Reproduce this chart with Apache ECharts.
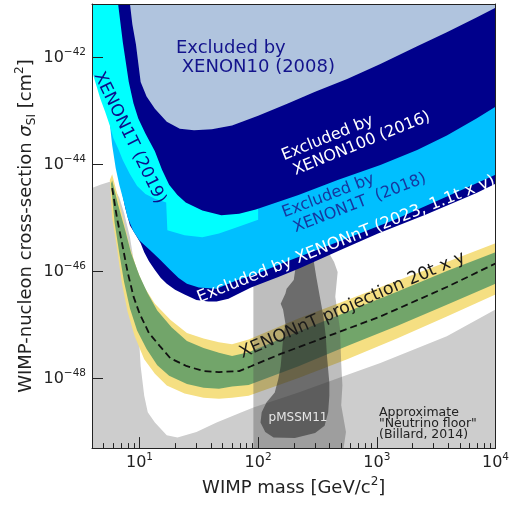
<!DOCTYPE html>
<html>
<head>
<meta charset="utf-8">
<script src="https://cdn.jsdelivr.net/npm/echarts@6/dist/echarts.min.js"></script>
<style>
  html, body { margin: 0; padding: 0; background: #fff; }
  #main { width: 512px; height: 505px; }
</style>
</head>
<body>
<div id="main"></div>
<script>
// every point is [log10(mass / GeV), log10(sigma / cm^2)]
var xenon10 = [[0.92,-41.0],[0.94,-41.38],[0.97,-41.75],[1.01,-42.46],[1.06,-42.73],[1.13,-42.96],[1.23,-43.20],[1.34,-43.33],[1.46,-43.36],[1.61,-43.34],[1.78,-43.27],[2.00,-43.09],[2.25,-42.86],[2.48,-42.64],[2.75,-42.40],[3.03,-42.12],[3.34,-41.79],[3.59,-41.53],[3.84,-41.25],[4.0,-41.07]];
var xenon100 = [[0.82,-41.0],[0.86,-41.72],[0.91,-42.46],[0.95,-42.86],[0.99,-43.14],[1.05,-43.42],[1.13,-43.75],[1.19,-44.10],[1.25,-44.38],[1.32,-44.57],[1.39,-44.71],[1.53,-44.86],[1.69,-44.95],[1.84,-44.92],[1.98,-44.84],[2.34,-44.57],[2.67,-44.29],[3.03,-44.01],[3.34,-43.73],[3.59,-43.46],[3.84,-43.14],[4.0,-42.92]];
var xenon1t2019 = [[0.60,-42.25],[0.67,-42.77],[0.71,-43.01],[0.75,-43.27],[0.78,-43.51],[0.82,-43.70],[0.86,-43.92],[0.92,-44.18],[0.98,-44.40],[1.05,-44.55],[1.13,-44.64],[1.225,-44.71],[1.235,-45.23],[1.38,-45.32],[1.53,-45.36],[1.67,-45.29],[1.81,-45.18],[2.00,-45.03]];
var xenon1t2018 = [[0.72,-41.0],[0.72,-42.40],[0.73,-42.86],[0.75,-43.23],[0.77,-43.64],[0.80,-44.07],[0.83,-44.38],[0.87,-44.71],[0.90,-44.99],[0.95,-45.25],[1.00,-45.42],[1.09,-45.60],[1.17,-45.77],[1.26,-45.97],[1.33,-46.12],[1.40,-46.23],[1.50,-46.30],[1.65,-46.32],[1.81,-46.17],[2.00,-46.03],[2.23,-45.82],[2.67,-45.45],[3.15,-45.03],[3.70,-44.49],[4.0,-44.19]];
var xenonnt2023 = [[0.78,-41.0],[0.78,-42.77],[0.79,-43.33],[0.81,-43.88],[0.84,-44.38],[0.88,-44.81],[0.92,-45.14],[0.97,-45.32],[1.01,-45.47],[1.04,-45.64],[1.08,-45.81],[1.13,-45.97],[1.18,-46.12],[1.23,-46.23],[1.30,-46.34],[1.38,-46.43],[1.48,-46.53],[1.58,-46.56],[1.65,-46.56],[1.75,-46.51],[1.94,-46.30],[2.17,-46.10],[2.36,-45.93],[2.67,-45.62],[3.01,-45.29],[3.42,-44.93],[3.84,-44.53],[4.0,-44.36]];
var neutrinoFloor = [[0.60,-44.44],[0.67,-44.38],[0.75,-44.32],[0.79,-44.44],[0.83,-44.62],[0.87,-44.90],[0.92,-45.36],[0.96,-45.92],[0.98,-46.65],[1.01,-47.77],[1.04,-48.32],[1.07,-48.63],[1.13,-48.82],[1.23,-49.06],[1.32,-49.10],[1.48,-49.00],[1.65,-48.82],[1.84,-48.65],[1.96,-48.54],[2.34,-48.26],[2.73,-47.95],[3.03,-47.71],[3.59,-47.21],[4.0,-46.71]];

// XENONnT 20 t x y projection: median and 1 / 2 sigma edges
var projMedian = [[0.77,-44.44],[0.81,-44.99],[0.86,-45.55],[0.90,-46.01],[0.95,-46.47],[1.00,-46.78],[1.08,-47.15],[1.17,-47.39],[1.26,-47.62],[1.40,-47.77],[1.54,-47.86],[1.67,-47.88],[1.84,-47.86],[1.94,-47.77],[2.19,-47.54],[2.61,-47.19],[3.03,-46.84],[3.59,-46.29],[4.0,-45.85]];
var proj1Up = [[0.77,-44.30],[0.82,-44.75],[0.88,-45.23],[0.93,-45.66],[1.00,-46.08],[1.07,-46.41],[1.15,-46.73],[1.27,-47.04],[1.40,-47.30],[1.54,-47.43],[1.67,-47.52],[1.78,-47.58],[1.92,-47.51],[2.34,-47.12],[2.75,-46.75],[3.17,-46.38],[3.59,-45.99],[4.0,-45.64]];
var proj1Down = [[0.76,-44.36],[0.79,-45.08],[0.83,-45.66],[0.87,-46.19],[0.92,-46.69],[0.98,-47.10],[1.06,-47.45],[1.15,-47.75],[1.25,-47.95],[1.40,-48.10],[1.54,-48.17],[1.67,-48.19],[1.78,-48.15],[1.92,-48.12],[2.34,-47.77],[2.75,-47.39],[3.17,-47.02],[3.59,-46.62],[4.0,-46.23]];
var proj2Up = [[0.77,-44.18],[0.82,-44.62],[0.87,-45.08],[0.92,-45.55],[0.98,-45.97],[1.04,-46.29],[1.13,-46.60],[1.26,-46.90],[1.40,-47.15],[1.54,-47.25],[1.67,-47.32],[1.78,-47.36],[1.92,-47.27],[2.34,-46.88],[2.75,-46.53],[3.17,-46.17],[3.59,-45.82],[4.0,-45.47]];
var proj2Down = [[0.75,-44.29],[0.77,-44.99],[0.81,-45.55],[0.85,-46.19],[0.90,-46.75],[0.96,-47.21],[1.04,-47.64],[1.13,-47.91],[1.23,-48.13],[1.38,-48.28],[1.54,-48.36],[1.67,-48.38],[1.78,-48.36],[1.92,-48.32],[2.34,-47.99],[2.75,-47.64],[3.17,-47.25],[3.59,-46.84],[4.0,-46.43]];

// pMSSM11 regions (outline)
var pmssmOuter = [[1.96,-45.55],[2.57,-45.55],[2.64,-45.82],[2.67,-46.01],[2.65,-46.47],[2.69,-47.08],[2.70,-47.71],[2.71,-48.13],[2.70,-48.50],[2.74,-49.00],[2.72,-49.30],[1.96,-49.30]];
var pmssmInner = [[2.34,-45.55],[2.45,-45.55],[2.49,-46.10],[2.52,-46.47],[2.55,-46.84],[2.57,-47.21],[2.58,-47.58],[2.60,-48.08],[2.60,-48.32],[2.59,-48.63],[2.56,-48.88],[2.48,-49.02],[2.31,-49.11],[2.13,-49.10],[2.06,-49.00],[2.02,-48.82],[2.03,-48.63],[2.07,-48.45],[2.14,-48.26],[2.17,-48.01],[2.19,-47.77],[2.21,-47.27],[2.23,-46.97],[2.21,-46.71],[2.19,-46.60],[2.23,-46.41],[2.24,-46.32],[2.30,-46.16],[2.32,-45.86]];

var xTickExp = [1, 2, 3, 4];
var yTickExp = [-48, -46, -44, -42];
var minorTickMasses = [5,6,7,8,9,20,30,40,50,60,70,80,90,200,300,400,500,600,700,800,900,2000,3000,4000,5000,6000,7000,8000,9000];

var X_MIN = 0.6, X_MAX = 4, Y_MIN = -49.3, Y_MAX = -41;
var FONT = 'DejaVu Sans';
var INK = '#222';

function above(curve) {
  var a = curve[0], b = curve[curve.length - 1];
  return curve.concat([[b[0], Y_MAX], [a[0], Y_MAX]]);
}
function below(curve) {
  var a = curve[0], b = curve[curve.length - 1];
  return curve.concat([[b[0], Y_MIN], [a[0], Y_MIN]]);
}
function band(up, down) {
  return up.concat(down.slice().reverse());
}
function area(name, pts, fill) {
  return {
    name: name,
    type: 'custom',
    silent: true,
    data: pts,
    renderItem: function (params, api) {
      if (params.dataIndex !== 0) return null;
      return {
        type: 'polygon',
        shape: { points: pts.map(function (p) { return api.coord(p); }) },
        style: { fill: fill }
      };
    }
  };
}
function deg(d) { return d * Math.PI / 180; }

var myChart = echarts.init(document.getElementById('main'));

var tickRich = {
  b: { fontSize: 16, lineHeight: 22, fontFamily: FONT, color: INK },
  e: { fontSize: 10.5, lineHeight: 8, verticalAlign: 'top', fontFamily: FONT, color: INK }
};

myChart.setOption({
  animation: false,
  grid: { left: 92, right: 13, top: 4, bottom: 52 },
  xAxis: [{
    type: 'value', min: X_MIN, max: X_MAX, position: 'bottom', z: 10,
    name: 'WIMP mass [GeV/c{sup|2}]', nameLocation: 'middle', nameGap: 25,
    nameTextStyle: {
      fontSize: 18, fontFamily: FONT, color: INK, lineHeight: 24,
      rich: { sup: { fontSize: 12, lineHeight: 12, verticalAlign: 'top', fontFamily: FONT, color: INK } }
    },
    axisLine: { onZero: false, lineStyle: { color: INK, width: 1 } },
    axisTick: { inside: true, length: 11, customValues: xTickExp, lineStyle: { color: INK } },
    axisLabel: {
      customValues: xTickExp, margin: 4, rich: tickRich,
      formatter: function (v) { return '{b|10}{e|' + v + '}'; }
    },
    splitLine: { show: false }
  }, {
    type: 'value', min: X_MIN, max: X_MAX, position: 'bottom', z: 10,
    axisLine: { show: false },
    axisTick: { inside: true, length: 5, customValues: minorTickMasses.map(Math.log10), lineStyle: { color: INK } },
    axisLabel: { show: false },
    splitLine: { show: false }
  }, {
    type: 'value', min: X_MIN, max: X_MAX, position: 'top', z: 10,
    axisLine: { onZero: false, lineStyle: { color: INK, width: 1 } },
    axisTick: { show: false }, axisLabel: { show: false }, splitLine: { show: false }
  }],
  yAxis: [{
    type: 'value', min: Y_MIN, max: Y_MAX, position: 'left', z: 10,
    name: 'WIMP-nucleon cross-section {s|σ}{sub|SI} [cm{sup|2}]',
    nameLocation: 'middle', nameGap: 54, nameMoveOverlap: false,
    nameTextStyle: {
      fontSize: 18, fontFamily: FONT, color: INK, lineHeight: 24,
      rich: {
        s: { fontSize: 18, fontStyle: 'italic', fontFamily: FONT, color: INK, lineHeight: 24 },
        sub: { fontSize: 12, lineHeight: 14, verticalAlign: 'bottom', fontFamily: FONT, color: INK },
        sup: { fontSize: 12, lineHeight: 12, verticalAlign: 'top', fontFamily: FONT, color: INK }
      }
    },
    axisLine: { onZero: false, lineStyle: { color: INK, width: 1 } },
    axisTick: { inside: true, length: 11, customValues: yTickExp, lineStyle: { color: INK } },
    axisLabel: {
      customValues: yTickExp, margin: 6, rich: tickRich,
      formatter: function (v) { return '{b|10}{e|\u2212' + Math.abs(v) + '}'; }
    },
    splitLine: { show: false }
  }, {
    type: 'value', min: Y_MIN, max: Y_MAX, position: 'right', z: 10,
    axisLine: { onZero: false, lineStyle: { color: INK, width: 1 } },
    axisTick: { show: false }, axisLabel: { show: false }, splitLine: { show: false }
  }],
  series: [
    area('Neutrino floor', below(neutrinoFloor), '#cdcdcd'),
    area('2 sigma', band(proj2Up, proj2Down), '#f5df82'),
    area('1 sigma', band(proj1Up, proj1Down), '#72a56a'),
    area('pMSSM11 outer', pmssmOuter, 'rgba(80,80,80,0.37)'),
    area('pMSSM11 inner', pmssmInner, 'rgba(40,40,40,0.55)'),
    {
      name: 'XENONnT projection', type: 'line', data: projMedian, showSymbol: false, silent: true,
      lineStyle: { color: '#111', width: 1.8, type: [7, 4] }
    },
    area('XENONnT 2023', above(xenonnt2023), '#00008b'),
    area('XENON1T 2018', above(xenon1t2018), '#00bfff'),
    area('XENON1T 2019', above(xenon1t2019), '#00ffff'),
    area('XENON100 2016', above(xenon100), '#00008b'),
    area('XENON10 2008', above(xenon10), '#b0c4de')
  ],
  graphic: [
    { type: 'text', z: 100, x: 176, y: 58,
      style: { text: 'Excluded by\n XENON10 (2008)', fill: '#13138c', fontSize: 18, fontFamily: FONT, lineHeight: 19, align: 'left', verticalAlign: 'middle' } },
    { type: 'text', z: 100, x: 129.5, y: 138, rotation: deg(-64),
      style: { text: 'XENON1T (2019)', fill: '#0d0d8a', fontSize: 17, fontFamily: FONT, align: 'center', verticalAlign: 'middle' } },
    { type: 'text', z: 100, x: 279, y: 148, rotation: deg(22),
      style: { text: 'Excluded by\n XENON100 (2016)', fill: '#ffffff', fontSize: 16, fontFamily: FONT, lineHeight: 18, align: 'left', verticalAlign: 'top' } },
    { type: 'text', z: 100, x: 279.5, y: 205, rotation: deg(21),
      style: { text: 'Excluded by\n XENON1T  (2018)', fill: '#16379f', fontSize: 16, fontFamily: FONT, lineHeight: 18, align: 'left', verticalAlign: 'top' } },
    { type: 'text', z: 100, x: 198, y: 298.5, rotation: deg(21.7),
      style: { text: 'Excluded by XENONnT (2023, 1.1t x y)', fill: '#ffffff', fontSize: 16.5, fontFamily: FONT, align: 'left', verticalAlign: 'middle' } },
    { type: 'text', z: 100, x: 240.5, y: 354, rotation: deg(23.5),
      style: { text: 'XENONnT projection 20t x y', fill: '#1a1a1a', fontSize: 17.5, fontFamily: FONT, align: 'left', verticalAlign: 'middle' } },
    { type: 'text', z: 100, x: 298, y: 418,
      style: { text: 'pMSSM11', fill: '#e6e6e6', fontSize: 12, fontFamily: FONT, align: 'center', verticalAlign: 'middle' } },
    { type: 'text', z: 100, x: 379, y: 424,
      style: { text: 'Approximate\n"Neutrino floor"\n(Billard, 2014)', fill: INK, fontSize: 12.5, fontFamily: FONT, lineHeight: 11, align: 'left', verticalAlign: 'middle' } }
  ]
});
</script>
</body>
</html>
